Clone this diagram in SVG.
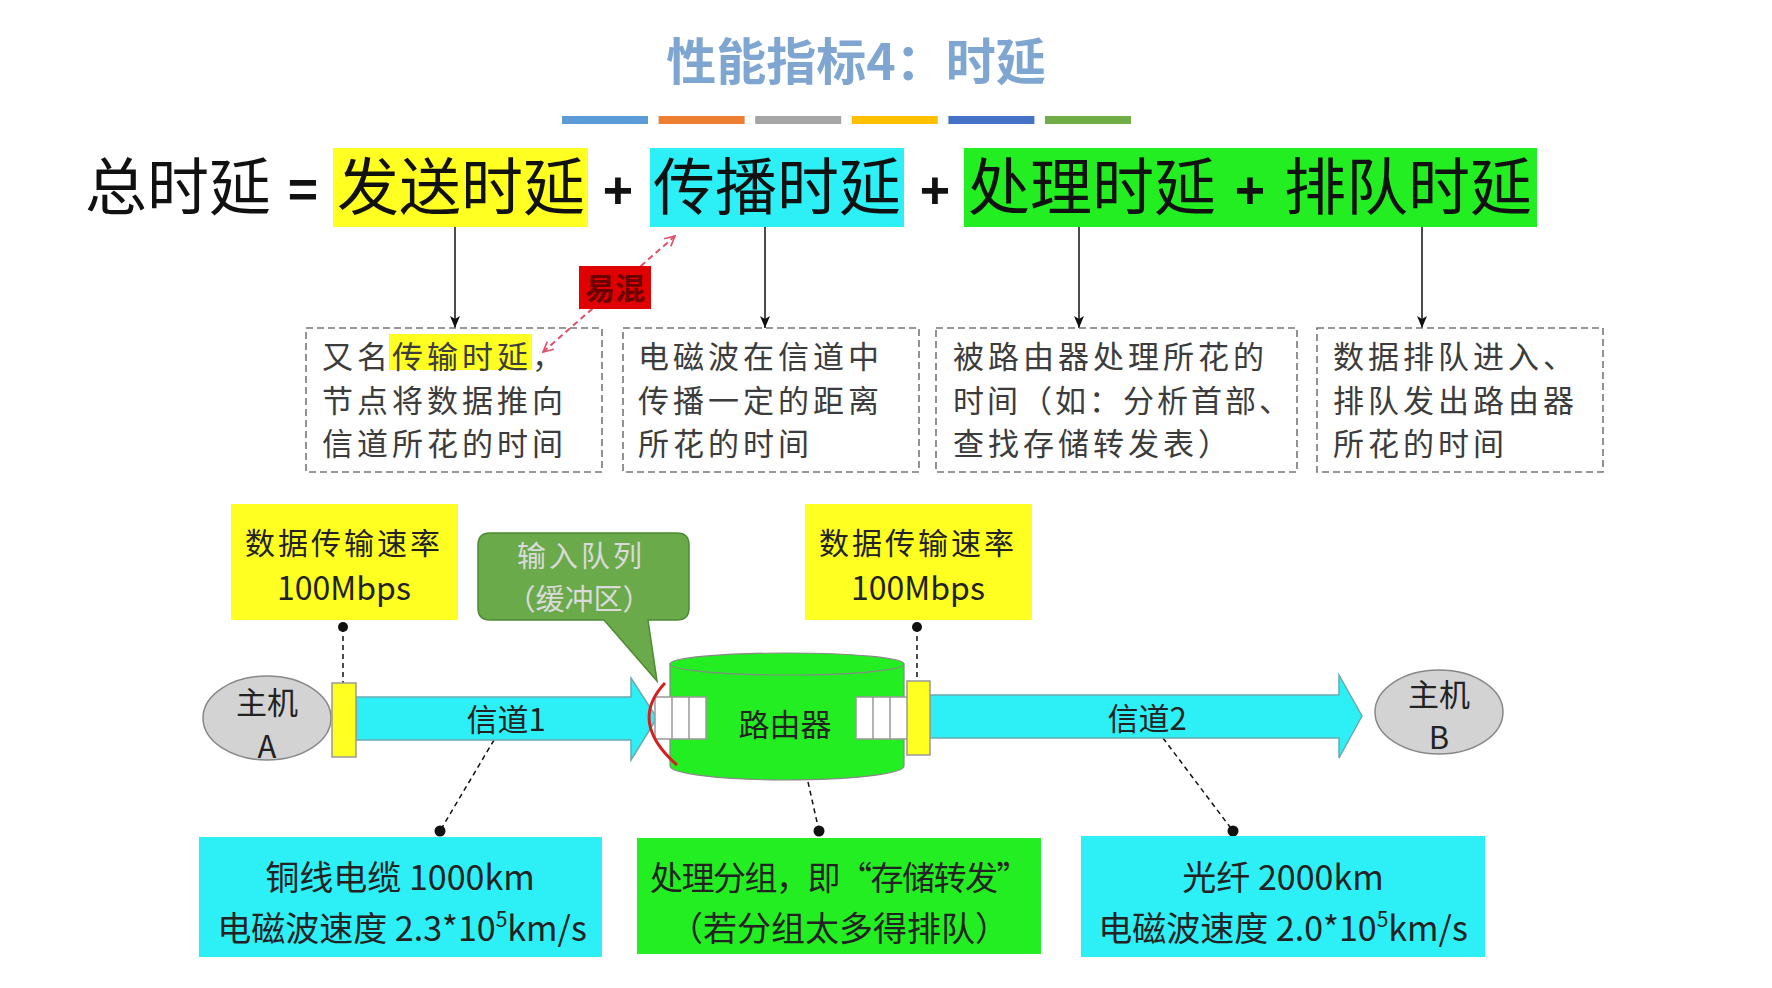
<svg xmlns="http://www.w3.org/2000/svg" width="1772" height="988" viewBox="0 0 1772 988">
<style>
.cjk{font-family:"Noto Sans CJK SC","Noto Sans",sans-serif}
.f{font-size:62px;fill:#111}
.op{font-family:"Liberation Sans",Arial,sans-serif;font-weight:bold;font-size:52px;fill:#111;text-anchor:middle}
.d{font-size:31px;fill:#3c3c3c;letter-spacing:4px}
.b{font-size:34px;fill:#222;text-anchor:middle}
.r{font-size:30px;fill:#222;text-anchor:middle}
.h{font-size:31px;fill:#222;text-anchor:middle}
.dash{fill:none;stroke:#777;stroke-width:1.6;stroke-dasharray:7 4}
.lead{stroke:#111;stroke-width:1.5;stroke-dasharray:5 4;fill:none}
.arr{stroke:#111;stroke-width:1.5;fill:none}
.cyan{fill:#2CF0F5}
.yel{fill:#FFFF22}
.grn{fill:#22EE22}
.tab{fill:#FFFF22;stroke:#999;stroke-width:1.5}
.q{fill:#fff;stroke:#999;stroke-width:1.5}
.qd{stroke:#999;stroke-width:1.5}
.dot{fill:#111}
</style>
<defs>
<marker id="ah" viewBox="0 0 12 10" refX="12" refY="5" markerWidth="12" markerHeight="10" markerUnits="userSpaceOnUse" orient="auto"><path d="M0,0 L12,5 L0,10 L3,5 z" fill="#111"/></marker>
<marker id="rh" viewBox="0 0 12 12" refX="11" refY="6" markerWidth="12" markerHeight="12" markerUnits="userSpaceOnUse" orient="auto-start-reverse"><path d="M1,1 L11,6 L1,11" fill="none" stroke="#E0506A" stroke-width="1.6"/></marker>
</defs>
<rect width="1772" height="988" fill="#fff"/>

<g id="title">
<text x="856" y="80" class="cjk" font-size="50" font-weight="bold" fill="#7FA6D1" text-anchor="middle">性能指标4：时延</text>
</g>
<g id="colorbars">
<rect x="562" y="116" width="86" height="8" fill="#5B9BD5"/>
<rect x="658.6" y="116" width="86" height="8" fill="#ED7D31"/>
<rect x="755.2" y="116" width="86" height="8" fill="#A5A5A5"/>
<rect x="851.8" y="116" width="86" height="8" fill="#FFC000"/>
<rect x="948.4" y="116" width="86" height="8" fill="#4472C4"/>
<rect x="1045" y="116" width="86" height="8" fill="#70AD47"/>
</g>

<g id="formula">
<text x="85" y="210" class="cjk f">总时延</text>
<text x="303" y="207" class="op">=</text>
<rect x="333" y="148" width="255" height="79" class="yel"/>
<text x="337" y="210" class="cjk f">发送时延</text>
<text x="618" y="208" class="op">+</text>
<rect x="650" y="148" width="254" height="79" class="cyan"/>
<text x="653" y="210" class="cjk f">传播时延</text>
<text x="935" y="208" class="op">+</text>
<rect x="964" y="148" width="573" height="79" class="grn"/>
<text x="968" y="210" class="cjk f">处理时延</text>
<text x="1250" y="208" class="op">+</text>
<text x="1284" y="210" class="cjk f">排队时延</text>
</g>

<g id="connectors">
<line x1="455" y1="227" x2="455" y2="328" class="arr" marker-end="url(#ah)"/>
<line x1="765" y1="227" x2="765" y2="328" class="arr" marker-end="url(#ah)"/>
<line x1="1079" y1="227" x2="1079" y2="328" class="arr" marker-end="url(#ah)"/>
<line x1="1422" y1="227" x2="1422" y2="328" class="arr" marker-end="url(#ah)"/>
<line x1="543" y1="352" x2="675" y2="236" stroke="#E0506A" stroke-width="2" stroke-dasharray="6 4" marker-start="url(#rh)" marker-end="url(#rh)"/>
<line x1="343" y1="627" x2="343" y2="683" class="lead"/>
<circle cx="343" cy="627" r="5" class="dot"/>
<line x1="917" y1="627" x2="917" y2="681" class="lead"/>
<circle cx="917" cy="627" r="5" class="dot"/>
<line x1="494" y1="740" x2="440" y2="831" class="lead"/>
<circle cx="440" cy="831" r="5.5" class="dot"/>
<line x1="808" y1="782" x2="819" y2="831" class="lead"/>
<circle cx="819" cy="831" r="5.5" class="dot"/>
<line x1="1163" y1="738" x2="1233" y2="831" class="lead"/>
<circle cx="1233" cy="831" r="5.5" class="dot"/>
</g>

<g id="confuse">
<rect x="579" y="266" width="72" height="43" fill="#E00000"/>
<text x="615" y="299" class="cjk" font-size="30" font-weight="bold" fill="#6A0000" text-anchor="middle">易混</text>
</g>

<g id="desc1">
<rect x="306" y="328" width="296" height="144" class="dash"/>
<rect x="389" y="334" width="143" height="36" fill="#FFFF22"/>
<text class="cjk d"><tspan x="322" y="368">又名传输时延，</tspan><tspan x="322" y="412">节点将数据推向</tspan><tspan x="322" y="455">信道所花的时间</tspan></text>
</g>
<g id="desc2">
<rect x="623" y="328" width="296" height="144" class="dash"/>
<text class="cjk d"><tspan x="638" y="368">电磁波在信道中</tspan><tspan x="638" y="412">传播一定的距离</tspan><tspan x="638" y="455">所花的时间</tspan></text>
</g>
<g id="desc3">
<rect x="936" y="328" width="361" height="144" class="dash"/>
<text class="cjk d"><tspan x="953" y="368">被路由器处理所花的</tspan><tspan x="953" y="412" letter-spacing="3">时间（如：分析首部、</tspan><tspan x="953" y="455">查找存储转发表）</tspan></text>
</g>
<g id="desc4">
<rect x="1317" y="328" width="286" height="144" class="dash"/>
<text class="cjk d"><tspan x="1333" y="368">数据排队进入、</tspan><tspan x="1333" y="412">排队发出路由器</tspan><tspan x="1333" y="455">所花的时间</tspan></text>
</g>

<g id="rate1">
<rect x="231" y="504" width="227" height="116" class="yel"/>
<text class="cjk r"><tspan x="344" y="554" letter-spacing="3">数据传输速率</tspan><tspan x="344" y="600" font-size="32">100Mbps</tspan></text>
</g>
<g id="rate2">
<rect x="805" y="504" width="227" height="116" class="yel"/>
<text class="cjk r"><tspan x="918" y="554" letter-spacing="3">数据传输速率</tspan><tspan x="918" y="600" font-size="32">100Mbps</tspan></text>
</g>

<g id="channel1">
<polygon points="356,697 631,697 631,678 657,718 631,760 631,740 356,740" class="cyan" stroke="#6AAAB0" stroke-width="1.5"/>
<text x="506" y="731" class="cjk h">信道1</text>
</g>
<g id="channel2">
<polygon points="930,695 1339,695 1339,675 1362,716 1339,758 1339,738 930,738" class="cyan" stroke="#6AAAB0" stroke-width="1.5"/>
<text x="1147" y="730" class="cjk h">信道2</text>
</g>

<g id="hostA">
<ellipse cx="267" cy="718" rx="64" ry="42" fill="#D3D3D3" stroke="#888" stroke-width="1.5"/>
<text class="cjk h"><tspan x="267" y="714">主机</tspan><tspan x="267" y="758">A</tspan></text>
</g>
<g id="hostB">
<ellipse cx="1439" cy="712" rx="64" ry="42" fill="#D3D3D3" stroke="#888" stroke-width="1.5"/>
<text class="cjk h"><tspan x="1439" y="706">主机</tspan><tspan x="1439" y="749">B</tspan></text>
</g>

<g id="router">
<path d="M670,664 L670,766 A117,14 0 0 0 904,766 L904,664 Z" class="grn" stroke="#888" stroke-width="1.2"/>
<ellipse cx="787" cy="664" rx="117" ry="11" class="grn" stroke="#888" stroke-width="1.2"/>
<text x="785" y="736" class="cjk h">路由器</text>
<rect x="655" y="697" width="51" height="42" class="q"/>
<line x1="672" y1="697" x2="672" y2="739" class="qd"/>
<line x1="689" y1="697" x2="689" y2="739" class="qd"/>
<rect x="856" y="697" width="52" height="42" class="q"/>
<line x1="873" y1="697" x2="873" y2="739" class="qd"/>
<line x1="890" y1="697" x2="890" y2="739" class="qd"/>
<path d="M665,683 Q628,722 677,765" fill="none" stroke="#D42020" stroke-width="3"/>
</g>
<g id="tabs">
<rect x="332" y="683" width="24" height="74" class="tab"/>
<rect x="907" y="681" width="23" height="74" class="tab"/>
</g>

<g id="buffer">
<path d="M490,533 H677 Q689,533 689,545 V608 Q689,620 677,620 H648 L657,681 L604,620 H490 Q478,620 478,608 V545 Q478,533 490,533 Z" fill="#6BAA4A" stroke="#4E8A35" stroke-width="1.5"/>
<text class="cjk" font-size="29" text-anchor="middle" style="fill:#DADADA"><tspan x="581" y="567" letter-spacing="3">输入队列</tspan><tspan x="579" y="610">（缓冲区）</tspan></text>
</g>

<g id="cable">
<rect x="199" y="837" width="403" height="120" class="cyan"/>
<text class="cjk b"><tspan x="400" y="890">铜线电缆 1000km</tspan><tspan x="402" y="941">电磁波速度 2.3*10<tspan font-size="21" dy="-14">5</tspan><tspan dy="14">km/s</tspan></tspan></text>
</g>
<g id="process">
<rect x="637" y="838" width="404" height="116" class="grn"/>
<text class="cjk b"><tspan x="839" y="890" font-size="33" letter-spacing="-1.5">处理分组，即“存储转发”</tspan><tspan x="839" y="941">（若分组太多得排队）</tspan></text>
</g>
<g id="fiber">
<rect x="1081" y="836" width="404" height="121" class="cyan"/>
<text class="cjk b"><tspan x="1283" y="890">光纤 2000km</tspan><tspan x="1283" y="941">电磁波速度 2.0*10<tspan font-size="21" dy="-14">5</tspan><tspan dy="14">km/s</tspan></tspan></text>
</g>
</svg>
